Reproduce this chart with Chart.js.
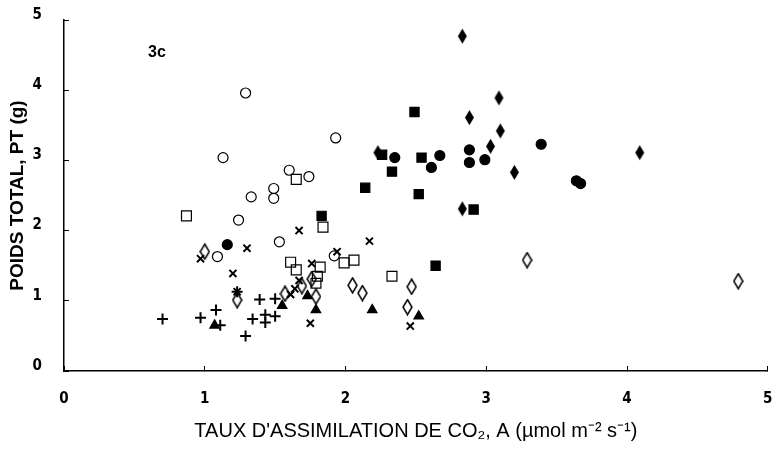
<!DOCTYPE html>
<html>
<head>
<meta charset="utf-8">
<script src="https://cdn.jsdelivr.net/npm/chart.js@4/dist/chart.umd.min.js"></script>
<style>
  html, body { margin: 0; padding: 0; background: #fff; }
  #c { display: block; }
</style>
</head>
<body>
<canvas id="c" width="777" height="449"></canvas>
<script>
// values: [A, PT]
const openCircles = [[1.29,3.96],[1.13,3.04],[1.93,3.32],[1.60,2.86],[1.74,2.77],[1.49,2.60],
  [1.33,2.48],[1.49,2.46],[1.24,2.15],[1.09,1.63],[1.53,1.84],[1.92,1.64]];
const filledCircles = [[1.16,1.80],[2.35,3.04],[2.67,3.07],[2.61,2.90],[2.88,3.15],[2.88,2.97],
  [2.99,3.01],[3.39,3.23],[3.64,2.71],[3.67,2.67]];
const openSquares = [[0.87,2.21],[1.65,2.73],[1.84,2.05],[1.99,1.54],[2.06,1.58],[1.61,1.55],
  [1.65,1.44],[1.82,1.48],[1.80,1.35],[1.79,1.25],[2.33,1.35]];
const filledSquares = [[1.83,2.21],[2.14,2.61],[2.26,3.08],[2.33,2.84],[2.49,3.69],[2.54,3.04],
  [2.52,2.52],[2.91,2.30],[2.64,1.50]];
const openDiamonds = [[1.00,1.70],[1.23,1.01],[1.57,1.10],[1.69,1.21],[1.76,1.31],[1.79,1.06],
  [2.05,1.22],[2.12,1.11],[2.47,1.20],[2.44,0.91],[3.29,1.58],[4.79,1.28]];
const filledDiamonds = [[2.23,3.11],[2.83,4.77],[3.09,3.89],[2.88,3.61],[3.10,3.42],[3.03,3.20],
  [3.20,2.83],[4.09,3.11],[2.83,2.31]];
const crosses = [[1.30,1.75],[0.97,1.60],[1.20,1.39],[1.23,1.13],[1.67,2.00],[2.17,1.85],[1.94,1.70],
  [1.76,1.53],[1.67,1.29],[1.61,1.09],[1.64,1.17],[1.75,0.68],[2.46,0.64]];
const pluses = [[0.70,0.74],[0.97,0.76],[1.08,0.87],[1.11,0.65],[1.23,1.13],[1.39,1.02],[1.34,0.74],
  [1.29,0.50],[1.43,0.80],[1.43,0.69],[1.50,0.78],[1.50,1.03]];
const triangles = [[1.07,0.65],[1.55,0.93],[1.73,1.07],[1.79,0.87],[2.19,0.87],[2.52,0.78]];

const xTicks = [0, 1, 2, 3, 4, 5];
const yTicks = [0, 1, 2, 3, 4, 5];
const panelLabel = '3c';

// tall narrow diamond used as point image
function diamond(filled) {
  const cv = document.createElement('canvas');
  cv.width = 11; cv.height = 17;
  const g = cv.getContext('2d');
  g.beginPath();
  g.moveTo(5.5, 1); g.lineTo(10, 8.5); g.lineTo(5.5, 16); g.lineTo(1, 8.5); g.closePath();
  if (filled) { g.fillStyle = '#000'; g.fill(); }
  else { g.strokeStyle = '#000'; g.lineWidth = 1.5; g.stroke(); }
  return cv;
}

const toXY = arr => arr.map(p => ({ x: p[0], y: p[1] }));

function ds(data, style, radius, opts) {
  return Object.assign({
    data: toXY(data),
    pointStyle: style,
    pointRadius: radius,
    pointHoverRadius: radius,
    pointBackgroundColor: 'rgba(0,0,0,0)',
    pointBorderColor: '#000',
    pointBorderWidth: 1.2
  }, opts || {});
}

const tickFont = { family: "'DejaVu Sans Condensed', 'Liberation Sans Narrow', sans-serif", size: 15, weight: 'bold' };

// no label overhang: keep the plot box where the figure has it
function noOverhang(s) {
  s.paddingTop = 0; s.paddingBottom = 0; s.paddingLeft = 0; s.paddingRight = 0;
}

const labelPlugin = {
  id: 'panelLabel',
  afterDraw(chart) {
    const { ctx, scales } = chart;
    ctx.save();
    ctx.fillStyle = '#000';
    ctx.font = "bold 16px 'Liberation Sans', Arial, sans-serif";
    ctx.textAlign = 'center';
    ctx.textBaseline = 'middle';
    ctx.fillText(panelLabel, scales.x.getPixelForValue(0.66), scales.y.getPixelForValue(4.54));
    ctx.restore();
  }
};

new Chart(document.getElementById('c'), {
  type: 'scatter',
  data: {
    datasets: [
      ds(openCircles, 'circle', 5),
      ds(filledCircles, 'circle', 5, { pointBackgroundColor: '#000' }),
      ds(openSquares, 'rect', 7),
      ds(filledSquares, 'rect', 6.5, { pointBackgroundColor: '#000' }),
      ds(openDiamonds, diamond(false), 8),
      ds(filledDiamonds, diamond(true), 8),
      ds(crosses, 'crossRot', 5, { pointBorderWidth: 2 }),
      ds(pluses, 'cross', 5.5, { pointBorderWidth: 2 }),
      ds(triangles, 'triangle', 5.5, { pointBackgroundColor: '#000' })
    ]
  },
  options: {
    responsive: false,
    animation: false,
    layout: { padding: { top: 20, right: 6, left: 0, bottom: 0 } },
    plugins: { legend: { display: false }, tooltip: { enabled: false } },
    scales: {
      x: {
        type: 'linear', min: 0, max: 5,
        afterBuildTicks: s => { s.ticks = xTicks.map(v => ({ value: v })); },
        afterFit: s => { s.height = 78; noOverhang(s); },
        border: { color: '#000', width: 1.5 },
        grid: { drawOnChartArea: false, drawTicks: true, tickLength: -5, color: '#000', lineWidth: 1 },
        ticks: { color: '#000', font: tickFont, padding: 24, maxRotation: 0 },
        title: {
          display: true,
          text: "TAUX D'ASSIMILATION DE CO\u2082, A (\u00B5mol m\u207B\u00B2 s\u207B\u00B9)",
          color: '#000',
          font: { family: "'Liberation Sans', Arial, sans-serif", size: 20 },
          padding: { top: 0, bottom: 6 }
        }
      },
      y: {
        type: 'linear', min: 0, max: 5,
        afterBuildTicks: s => { s.ticks = yTicks.map(v => ({ value: v })); },
        afterFit: s => { s.width = 64; noOverhang(s); },
        border: { color: '#000', width: 1.5 },
        grid: { drawOnChartArea: false, drawTicks: true, tickLength: -5, color: '#000', lineWidth: 1 },
        ticks: { color: '#000', font: tickFont, padding: 27, labelOffset: -5 },
        title: {
          display: true,
          text: 'POIDS TOTAL, PT (g)',
          color: '#000',
          font: { family: "'Liberation Sans', Arial, sans-serif", size: 19, weight: 'bold' },
          padding: { top: 6, bottom: 0 }
        }
      }
    }
  },
  plugins: [labelPlugin]
});
</script>
</body>
</html>
